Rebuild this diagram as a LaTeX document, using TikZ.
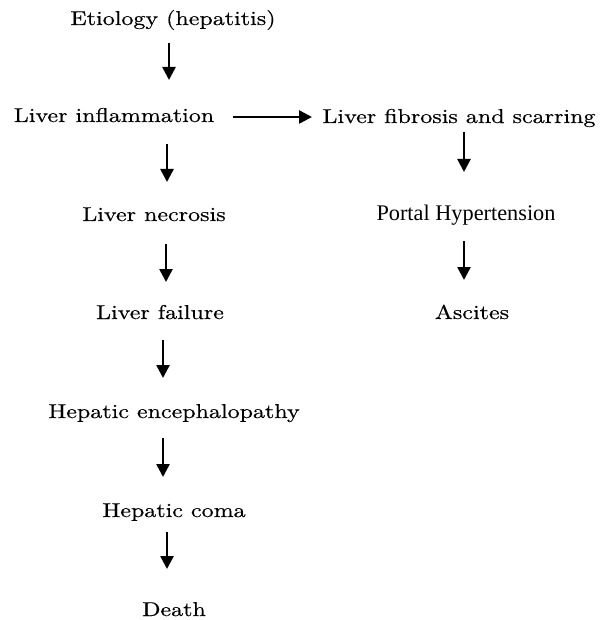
\documentclass[tikz,border=0pt]{standalone}
\usepackage{fontspec}
\setmainfont{lmroman10-regular.otf}[FakeStretch=1.2,FakeBold=0.45]
\newfontfamily\timesfont{Liberation Serif}
\usetikzlibrary{arrows.meta}
\tikzset{
  lbl/.style={anchor=base, inner sep=0pt, font=\fontsize{20}{24}\selectfont},
  tlbl/.style={anchor=base, inner sep=0pt, font={\timesfont\fontsize{22.3}{26}\selectfont}},
  arr/.style={line width=2.6pt, -{Triangle[length=13pt,width=13pt]}}
}
\begin{document}
\begin{tikzpicture}[x=1pt,y=-1pt]
\useasboundingbox (0,0) rectangle (611,620);
% nodes
\node[lbl] (etio) at (173,25) {Etiology (hepatitis)};
\node[lbl] (infl) at (114,122) {Liver inflammation};
\node[lbl] (fibr) at (459,123) {Liver fibrosis and scarring};
\node[tlbl] (port) at (466,221) {Portal Hypertension};
\node[lbl] (asci) at (472,319) {Ascites};
\node[lbl] (necr) at (154,221) {Liver necrosis};
\node[lbl] (fail) at (160,319) {Liver failure};
\node[lbl] (ence) at (174,418) {Hepatic encephalopathy};
\node[lbl] (coma) at (174,517) {Hepatic coma};
\node[lbl] (death) at (174,616) {Death};
% arrow end points
\coordinate (etio-o) at (169,43);  \coordinate (infl-i) at (169,80);
\coordinate (infl-r) at (233,117); \coordinate (fibr-l) at (312,117);
\coordinate (fibr-o) at (464,132); \coordinate (port-i) at (464,172);
\coordinate (port-o) at (464,241); \coordinate (asci-i) at (464,280);
\coordinate (infl-o) at (167,144); \coordinate (necr-i) at (167,182);
\coordinate (necr-o) at (166,244); \coordinate (fail-i) at (166,282);
\coordinate (fail-o) at (163,340); \coordinate (ence-i) at (163,378);
\coordinate (ence-o) at (163,438); \coordinate (coma-i) at (163,477);
\coordinate (coma-o) at (167,532); \coordinate (death-i) at (167,569);
% connectors
\draw[arr] (etio-o) -- (infl-i);
\draw[arr] (infl-r) -- (fibr-l);
\draw[arr] (fibr-o) -- (port-i);
\draw[arr] (port-o) -- (asci-i);
\draw[arr] (infl-o) -- (necr-i);
\draw[arr] (necr-o) -- (fail-i);
\draw[arr] (fail-o) -- (ence-i);
\draw[arr] (ence-o) -- (coma-i);
\draw[arr] (coma-o) -- (death-i);
\end{tikzpicture}
\end{document}
